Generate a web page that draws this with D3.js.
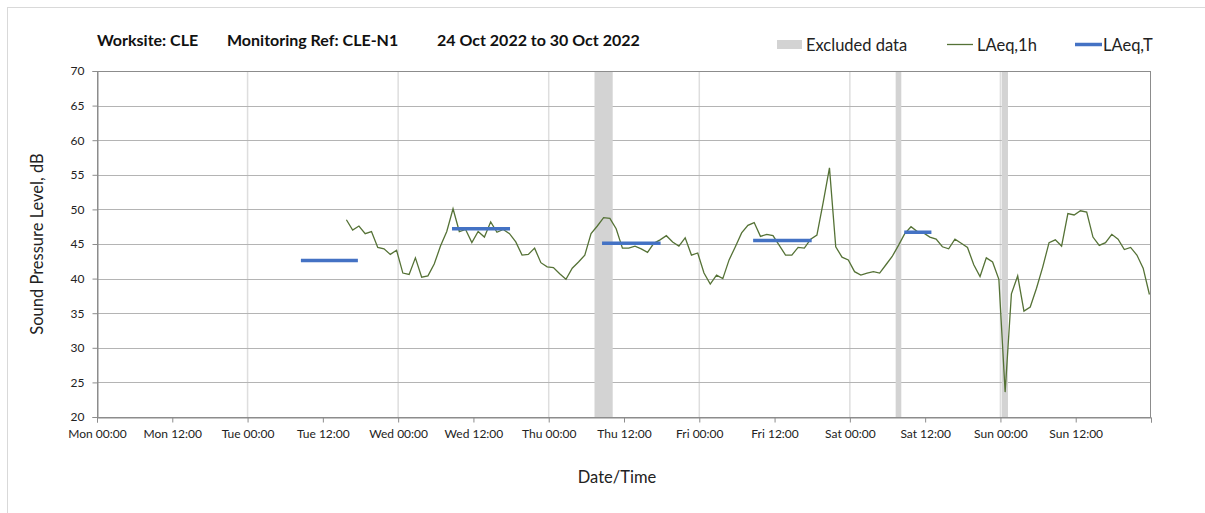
<!DOCTYPE html>
<html>
<head>
<meta charset="utf-8">
<script src="https://cdn.jsdelivr.net/npm/d3@7"></script>
<style>
  html, body { margin: 0; padding: 0; background: #fff; }
  svg { display: block; font-family: Lato, "Open Sans", sans-serif; }
</style>
</head>
<body>
<script>
// hourly LAeq,1h readings, first reading Tue 25 Oct 15:45
const hourlyStart = '2022-10-25T15:45'
const laeq1h = [
  48.5, 47.0, 47.6, 46.5, 46.8, 44.5, 44.3, 43.5, 44.1, 40.8, 40.6, 43.0, 40.2, 40.4, 42.1, 44.7,
  46.8, 50.1, 46.8, 47.1, 45.2, 46.8, 46.0, 48.2, 46.7, 47.1, 46.5, 45.3, 43.4, 43.5, 44.4, 42.3,
  41.7, 41.6, 40.7,
  39.9, 41.5, 42.4, 43.4, 46.5, 47.6, 48.8, 48.7, 47.2, 44.4, 44.4, 44.7, 44.3, 43.8, 45.1, 45.6,
  46.2, 45.3, 44.7, 45.9, 43.4, 43.7, 40.8, 39.2, 40.5, 40.0, 42.7, 44.6, 46.6, 47.7, 48.1, 46.1,
  46.4, 46.2, 44.8, 43.4, 43.4, 44.5,
  44.4, 45.7, 46.3, 51.0, 56.0, 44.6, 43.1, 42.7, 41.0, 40.5, 40.8, 41.0, 40.8, 42.0, 43.2, 44.8,
  46.5, 47.5, 46.8, 46.6, 46.0, 45.7, 44.6, 44.3, 45.7, 45.1, 44.5, 42.0, 40.3,
  43.0, 42.4, 39.9, 23.6, 37.8, 40.4, 35.3, 35.9, 38.6, 41.7, 45.2, 45.6, 44.7, 49.4, 49.2, 49.8,
  49.6, 46.0, 44.8, 45.2, 46.4, 45.7, 44.2, 44.5, 43.4, 41.5, 37.7
]

// LAeq,T periods
const periodStart = ['2022-10-25T08:30', '2022-10-26T08:35', '2022-10-27T08:30', '2022-10-28T08:35', '2022-10-29T08:40']
const periodEnd = ['2022-10-25T17:35', '2022-10-26T17:50', '2022-10-27T17:50', '2022-10-28T17:55', '2022-10-29T13:00']
const periodValue = [42.6, 47.2, 45.1, 45.5, 46.7]

// excluded data windows
const excludedStart = ['2022-10-27T07:18', '2022-10-29T07:18', '2022-10-30T00:12']
const excludedEnd = ['2022-10-27T10:12', '2022-10-29T08:12', '2022-10-30T01:12']

const yTicks = [20, 25, 30, 35, 40, 45, 50, 55, 60, 65, 70]

const parse = d3.utcParse('%Y-%m-%dT%H:%M')
const t0 = parse('2022-10-24T00:00')
const t1 = parse('2022-10-31T00:00')

const W = 1205, H = 513
const pLeft = 97, pRight = 1151, pTop = 71, pBottom = 417

const svg = d3.select('body').append('svg')
  .attr('width', W)
  .attr('height', H)

// outer chart border
svg.append('rect')
  .attr('x', 7.5).attr('y', 7.5)
  .attr('width', W + 10).attr('height', H + 10)
  .attr('fill', 'none')
  .attr('stroke', '#d9d9d9')

const x = d3.scaleUtc().domain([t0, t1]).range([pLeft, pRight])
const y = d3.scaleLinear().domain([20, 70]).range([pBottom, pTop])

const ticks12 = d3.utcHour.every(12).range(t0, d3.utcHour.offset(t1, 1))
const days = d3.utcDay.range(d3.utcDay.offset(t0, 1), t1)

// vertical day gridlines
svg.append('g')
  .selectAll('line')
  .data(days)
  .enter().append('line')
  .attr('x1', d => x(d)).attr('x2', d => x(d))
  .attr('y1', pTop).attr('y2', pBottom)
  .attr('stroke', '#dedede')
  .attr('stroke-width', 1.5)

// horizontal gridlines
svg.append('g')
  .selectAll('line')
  .data(yTicks.slice(1, -1))
  .enter().append('line')
  .attr('x1', pLeft).attr('x2', pRight)
  .attr('y1', d => Math.round(y(d)) + 0.5).attr('y2', d => Math.round(y(d)) + 0.5)
  .attr('stroke', '#b4b4b4')

// excluded bands
svg.append('g')
  .selectAll('rect')
  .data(excludedStart.map((s, i) => ({ s: parse(s), e: parse(excludedEnd[i]) })))
  .enter().append('rect')
  .attr('x', d => x(d.s))
  .attr('width', d => x(d.e) - x(d.s))
  .attr('y', pTop + 1)
  .attr('height', pBottom - pTop - 1)
  .attr('fill', '#d3d3d3')

// plot frame
svg.append('rect')
  .attr('x', pLeft + 0.5).attr('y', pTop + 0.5)
  .attr('width', pRight - pLeft - 1).attr('height', pBottom - pTop)
  .attr('fill', 'none')
  .attr('stroke', '#8c8c8c')

// axes
const xAxis = d3.axisBottom(x)
  .tickValues(ticks12)
  .tickSize(5)
  .tickFormat(d => +d === +t1 ? '' : d3.utcFormat('%a %H:%M')(d))

const gx = svg.append('g')
  .attr('transform', `translate(0,${pBottom + 0.5})`)
  .call(xAxis)
gx.select('.domain').attr('stroke', '#8c8c8c')
gx.selectAll('.tick line').attr('stroke', '#8c8c8c')
gx.selectAll('.tick text')
  .attr('dy', '1.05em')
  .attr('font-family', 'Lato, sans-serif')
  .attr('font-size', 12)
  .attr('fill', '#222')

const yAxis = d3.axisLeft(y).tickValues(yTicks).tickSize(5).tickPadding(8)
const gy = svg.append('g')
  .attr('transform', `translate(${pLeft + 0.5},0)`)
  .call(yAxis)
gy.select('.domain').attr('stroke', '#8c8c8c')
gy.selectAll('.tick line').attr('stroke', '#8c8c8c')
gy.selectAll('.tick text')
  .attr('font-family', 'Lato, sans-serif')
  .attr('font-size', 12)
  .attr('fill', '#222')

// LAeq,1h line
const start = parse(hourlyStart)
const hourly = laeq1h.map((v, i) => ({ t: d3.utcHour.offset(start, i), v }))

svg.append('path')
  .datum(hourly)
  .attr('d', d3.line().x(d => x(d.t)).y(d => y(d.v)))
  .attr('fill', 'none')
  .attr('stroke', '#557236')
  .attr('stroke-width', 1.3)

// LAeq,T segments
svg.append('g')
  .selectAll('line')
  .data(periodValue.map((v, i) => ({ s: parse(periodStart[i]), e: parse(periodEnd[i]), v })))
  .enter().append('line')
  .attr('x1', d => x(d.s)).attr('x2', d => x(d.e))
  .attr('y1', d => y(d.v)).attr('y2', d => y(d.v))
  .attr('stroke', '#4472c4')
  .attr('stroke-width', 3.5)

// title
const title = svg.append('g')
  .attr('font-weight', 'bold')
  .attr('font-size', 16)
  .attr('fill', '#111')
title.append('text').attr('x', 97).attr('y', 46).text('Worksite: CLE')
title.append('text').attr('x', 227).attr('y', 46).text('Monitoring Ref: CLE-N1')
title.append('text').attr('x', 437).attr('y', 46).text('24 Oct 2022 to 30 Oct 2022')

// legend
const legend = svg.append('g').attr('font-size', 16.5).attr('fill', '#222')
legend.append('rect').attr('x', 777).attr('y', 40).attr('width', 25).attr('height', 9).attr('fill', '#d3d3d3')
legend.append('text').attr('x', 806).attr('y', 51).text('Excluded data')
legend.append('line').attr('x1', 947).attr('x2', 973).attr('y1', 44.5).attr('y2', 44.5)
  .attr('stroke', '#557236').attr('stroke-width', 1.3)
legend.append('text').attr('x', 977).attr('y', 51).text('LAeq,1h')
legend.append('line').attr('x1', 1075).attr('x2', 1102).attr('y1', 44.5).attr('y2', 44.5)
  .attr('stroke', '#4472c4').attr('stroke-width', 3.5)
legend.append('text').attr('x', 1103).attr('y', 51).text('LAeq,T')

// axis titles
svg.append('text')
  .attr('transform', `translate(43,${(pTop + pBottom) / 2}) rotate(-90)`)
  .attr('text-anchor', 'middle')
  .attr('font-size', 16.5)
  .attr('fill', '#222')
  .text('Sound Pressure Level, dB')

svg.append('text')
  .attr('x', 617).attr('y', 483)
  .attr('text-anchor', 'middle')
  .attr('font-size', 16.5)
  .attr('fill', '#222')
  .text('Date/Time')
</script>
</body>
</html>
